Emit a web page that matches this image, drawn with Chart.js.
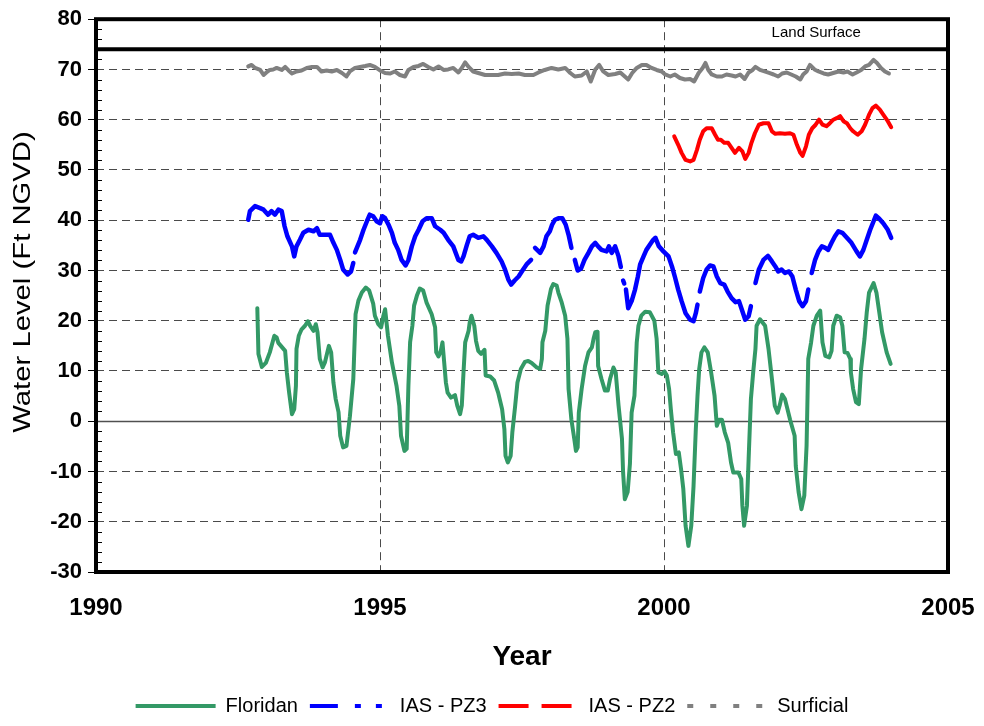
<!DOCTYPE html>
<html>
<head>
<meta charset="utf-8">
<title>Water Level</title>
<script src="https://cdn.jsdelivr.net/npm/chart.js@4.4.1/dist/chart.umd.min.js"></script>
<style>
  html, body { margin: 0; padding: 0; background: #fff; }
  canvas { display: block; }
</style>
</head>
<body>
<canvas id="chart" width="984" height="726"></canvas>
<script>
// values (decimal year, ft NGVD)
const floridanYears = [
  1992.84, 1992.86, 1992.92, 1992.99, 1993.06, 1993.14, 1993.18, 1993.21, 1993.33, 1993.36,
  1993.40, 1993.45, 1993.49, 1993.52, 1993.53, 1993.57, 1993.62, 1993.68, 1993.73, 1993.77,
  1993.83, 1993.87, 1993.90, 1993.94, 1993.99, 1994.03, 1994.10, 1994.14, 1994.18, 1994.22,
  1994.27, 1994.30, 1994.35, 1994.41, 1994.47, 1994.53, 1994.57, 1994.62, 1994.68, 1994.75,
  1994.81, 1994.88, 1994.91, 1994.97, 1995.02, 1995.06, 1995.09, 1995.14, 1995.21, 1995.29,
  1995.34, 1995.37, 1995.43, 1995.47, 1995.50, 1995.53, 1995.57, 1995.60, 1995.65, 1995.70,
  1995.76, 1995.82, 1995.91, 1995.97, 1995.99, 1996.03, 1996.07, 1996.10, 1996.13, 1996.16,
  1996.19, 1996.25, 1996.32, 1996.36, 1996.41, 1996.44, 1996.47, 1996.50, 1996.56, 1996.58,
  1996.61, 1996.66, 1996.69, 1996.73, 1996.78, 1996.84, 1996.86, 1996.94, 1997.01, 1997.08,
  1997.15, 1997.19, 1997.21, 1997.25, 1997.30, 1997.33, 1997.38, 1997.42, 1997.48, 1997.55,
  1997.61, 1997.67, 1997.76, 1997.82, 1997.85, 1997.86, 1997.91, 1997.95, 1998.01, 1998.05,
  1998.11, 1998.14, 1998.20, 1998.26, 1998.30, 1998.32, 1998.37, 1998.42, 1998.45, 1998.48,
  1998.50, 1998.55, 1998.61, 1998.67, 1998.73, 1998.76, 1998.79, 1998.83, 1998.84, 1998.90,
  1998.96, 1999.01, 1999.05, 1999.11, 1999.15, 1999.20, 1999.26, 1999.28, 1999.31, 1999.36,
  1999.40, 1999.43, 1999.48, 1999.52, 1999.55, 1999.60, 1999.67, 1999.75, 1999.83, 1999.87,
  1999.90, 1999.96, 2000.01, 2000.05, 2000.09, 2000.12, 2000.16, 2000.21, 2000.26, 2000.30,
  2000.34, 2000.38, 2000.43, 2000.48, 2000.52, 2000.56, 2000.59, 2000.62, 2000.66, 2000.71,
  2000.77, 2000.83, 2000.89, 2000.93, 2000.97, 2001.02, 2001.07, 2001.13, 2001.18, 2001.22,
  2001.31, 2001.36, 2001.38, 2001.41, 2001.46, 2001.49, 2001.53, 2001.57, 2001.61, 2001.63,
  2001.69, 2001.78, 2001.84, 2001.90, 2001.95, 2002.00, 2002.04, 2002.08, 2002.13, 2002.22,
  2002.30, 2002.32, 2002.37, 2002.42, 2002.47, 2002.51, 2002.54, 2002.59, 2002.63, 2002.69,
  2002.75, 2002.79, 2002.84, 2002.91, 2002.95, 2002.98, 2003.04, 2003.10, 2003.14, 2003.18,
  2003.23, 2003.28, 2003.29, 2003.33, 2003.38, 2003.43, 2003.47, 2003.53, 2003.57, 2003.61,
  2003.69, 2003.74, 2003.79, 2003.84, 2003.92, 2003.99
];
const floridanLevels = [
  22.5, 13.4, 10.8, 11.6, 13.7, 17.0, 16.7, 15.6, 14.0, 9.7,
  5.7, 1.4, 2.4, 7.1, 14.4, 17.0, 18.3, 19.0, 19.9, 19.0,
  18.0, 19.3, 17.7, 12.4, 10.7, 11.7, 15.0, 13.7, 7.7, 4.4,
  1.8, -2.9, -5.2, -4.9, 1.0, 8.4, 21.3, 24.0, 25.6, 26.6,
  26.0, 23.4, 21.0, 19.3, 18.7, 21.0, 22.3, 17.0, 11.7, 7.1,
  3.1, -2.9, -5.9, -5.5, 7.0, 15.7, 19.0, 23.0, 25.0, 26.4,
  26.0, 23.6, 21.3, 18.7, 13.7, 12.9, 14.0, 15.7, 11.7, 7.7,
  5.7, 4.7, 5.2, 3.1, 1.4, 3.1, 9.7, 15.7, 18.0, 19.7,
  21.0, 19.0, 16.0, 14.0, 13.4, 14.2, 9.1, 8.9, 8.1, 5.7,
  2.4, -1.6, -6.9, -8.2, -6.9, -2.2, 3.1, 7.7, 10.4, 11.8,
  12.0, 11.6, 10.7, 10.4, 12.4, 15.7, 18.0, 23.0, 26.3, 27.3,
  27.0, 25.6, 23.6, 21.0, 16.4, 6.4, 0.3, -3.5, -5.9, -5.2,
  1.7, 6.4, 11.0, 13.7, 14.7, 16.4, 17.7, 17.8, 11.0, 8.4,
  6.1, 6.1, 8.4, 10.7, 9.7, 3.1, -3.5, -10.2, -15.5, -14.1,
  -8.5, 1.7, 5.1, 15.7, 19.0, 21.0, 21.8, 21.7, 20.0, 16.4,
  9.7, 9.4, 9.9, 9.1, 6.4, 2.4, -2.2, -6.5, -6.2, -9.5,
  -13.5, -20.8, -24.8, -20.8, -12.9, -1.6, 5.1, 10.4, 13.7, 14.7,
  13.7, 9.7, 5.1, -0.9, 0.3, 0.3, -2.2, -4.3, -8.2, -10.2,
  -10.2, -11.5, -16.8, -20.8, -16.8, -7.5, 4.4, 9.7, 14.4, 19.0,
  20.3, 19.0, 14.4, 8.4, 3.1, 1.7, 3.3, 5.3, 4.4, 0.3,
  -2.9, -8.9, -14.1, -17.5, -14.8, -4.9, 12.4, 15.7, 19.0, 21.0,
  22.0, 15.7, 13.0, 12.7, 14.0, 19.0, 21.0, 20.7, 19.0, 13.7,
  13.6, 12.4, 9.7, 6.4, 3.8, 3.4, 10.4, 16.4, 21.7, 25.6,
  27.5, 25.6, 21.7, 17.7, 13.7, 11.4
];

// null = gap in the record
const pz3Years = [
  1992.68, 1992.71, 1992.80, 1992.89, 1992.95, 1993.03, 1993.09, 1993.15, 1993.21, 1993.27,
  1993.32, 1993.37, 1993.45, 1993.49, 1993.53, 1993.59, 1993.65, 1993.74, 1993.83, 1993.89,
  1993.94, 1994.03, 1994.12, 1994.18, 1994.24, 1994.30, 1994.35, 1994.43, 1994.49, 1994.53,
  1994.545, 1994.56, 1994.65, 1994.71, 1994.77, 1994.82, 1994.88, 1994.94, 1995.00, 1995.04,
  1995.09, 1995.15, 1995.21, 1995.26, 1995.32, 1995.38, 1995.45, 1995.50, 1995.56, 1995.62,
  1995.68, 1995.75, 1995.82, 1995.91, 1995.97, 1996.06, 1996.12, 1996.20, 1996.29, 1996.38,
  1996.43, 1996.47, 1996.53, 1996.58, 1996.64, 1996.73, 1996.82, 1996.88, 1996.97, 1997.05,
  1997.14, 1997.20, 1997.26, 1997.31, 1997.37, 1997.44, 1997.52, 1997.58, 1997.66, 1997.69,
  1997.73, 1997.82, 1997.88, 1997.93, 1997.99, 1998.03, 1998.08, 1998.14, 1998.21, 1998.27,
  1998.32, 1998.37, 1998.40, 1998.43, 1998.48, 1998.54, 1998.60, 1998.67, 1998.73, 1998.79,
  1998.84, 1998.90, 1998.99, 1999.03, 1999.08, 1999.14, 1999.20, 1999.24, 1999.26, 1999.28,
  1999.30, 1999.31, 1999.33, 1999.37, 1999.43, 1999.49, 1999.54, 1999.58, 1999.64, 1999.69,
  1999.75, 1999.81, 1999.85, 1999.91, 1999.99, 2000.08, 2000.14, 2000.19, 2000.25, 2000.31,
  2000.38, 2000.46, 2000.52, 2000.56, 2000.59, 2000.61, 2000.63, 2000.69, 2000.75, 2000.81,
  2000.87, 2000.93, 2000.99, 2001.06, 2001.12, 2001.19, 2001.26, 2001.32, 2001.38, 2001.43,
  2001.49, 2001.53, 2001.57, 2001.61, 2001.67, 2001.75, 2001.83, 2001.90, 2001.96, 2002.01,
  2002.07, 2002.13, 2002.20, 2002.26, 2002.32, 2002.38, 2002.44, 2002.50, 2002.54, 2002.57,
  2002.60, 2002.66, 2002.72, 2002.78, 2002.84, 2002.89, 2002.95, 2003.01, 2003.07, 2003.14,
  2003.22, 2003.30, 2003.39, 2003.45, 2003.51, 2003.57, 2003.63, 2003.69, 2003.73, 2003.79,
  2003.86, 2003.94, 2004.00
];
const pz3Levels = [
  40.1, 41.8, 42.8, 42.4, 42.1, 41.1, 41.8, 41.1, 42.1, 41.8,
  38.8, 36.8, 34.8, 32.8, 34.8, 36.1, 37.5, 38.1, 37.8, 38.4,
  37.1, 37.1, 37.1, 35.5, 34.1, 32.1, 30.2, 29.2, 29.8, 31.5,
  null, 33.6, 36.1, 38.1, 39.8, 41.1, 40.8, 39.8, 39.4, 40.8,
  40.4, 39.1, 37.5, 35.5, 34.1, 32.1, 31.0, 32.1, 34.8, 36.8,
  38.1, 39.8, 40.4, 40.4, 38.8, 38.1, 37.5, 36.1, 34.8, 32.1,
  31.8, 32.8, 35.1, 36.8, 37.1, 36.5, 36.8, 36.1, 34.8, 33.5,
  31.8, 30.2, 28.2, 27.2, 28.0, 28.8, 30.2, 31.2, 32.1, null,
  34.5, 33.5, 34.8, 36.8, 37.8, 39.1, 40.1, 40.4, 40.4, 39.1,
  37.1, 34.5, null, 32.1, 30.0, 30.4, 32.1, 33.5, 34.8, 35.5,
  34.8, 34.1, 33.8, 34.8, 33.5, 34.8, 32.8, 30.7, null, 28.0,
  27.4, null, 26.2, 22.5, 23.9, 26.2, 28.8, 31.2, 32.8, 34.1,
  35.1, 36.1, 36.5, 34.8, 33.8, 32.8, 30.8, 28.8, 26.2, 23.9,
  21.5, 20.2, 19.9, 21.5, 23.2, null, 25.8, 28.5, 30.2, 31.0,
  30.8, 28.8, 27.5, 27.2, 25.8, 24.5, 23.7, 23.9, 21.9, 20.2,
  20.9, 22.9, null, 27.5, 30.2, 32.1, 32.9, 31.8, 30.8, 29.8,
  30.2, 29.5, 29.8, 28.8, 26.2, 23.9, 22.9, 23.9, 26.2, null,
  29.5, 32.1, 33.8, 34.8, 34.5, 34.1, 35.5, 36.8, 37.8, 37.5,
  36.5, 35.5, 33.8, 32.8, 34.1, 36.1, 38.1, 39.8, 40.9, 40.3,
  39.4, 38.1, 36.5
];

const pz2Years = [
  2000.18, 2000.25, 2000.31, 2000.38, 2000.46, 2000.52, 2000.58, 2000.63, 2000.69, 2000.75,
  2000.84, 2000.90, 2000.95, 2001.00, 2001.06, 2001.13, 2001.19, 2001.25, 2001.32, 2001.38,
  2001.43, 2001.49, 2001.54, 2001.60, 2001.67, 2001.75, 2001.84, 2001.90, 2001.96, 2002.04,
  2002.13, 2002.22, 2002.28, 2002.34, 2002.40, 2002.44, 2002.50, 2002.55, 2002.61, 2002.67,
  2002.73, 2002.79, 2002.86, 2002.92, 2002.98, 2003.04, 2003.10, 2003.16, 2003.22, 2003.28,
  2003.33, 2003.41, 2003.48, 2003.54, 2003.61, 2003.67, 2003.73, 2003.80, 2003.86, 2003.94,
  2004.00
];
const pz2Levels = [
  56.7, 55.0, 53.4, 52.0, 51.7, 52.0, 54.0, 56.0, 57.7, 58.3,
  58.3, 57.0, 56.0, 56.0, 55.4, 55.4, 54.4, 53.4, 54.4, 53.7,
  52.2, 53.4, 55.4, 57.3, 59.0, 59.3, 59.3, 57.7, 57.2, 57.3,
  57.2, 57.3, 57.0, 55.0, 53.4, 52.8, 54.7, 57.0, 58.3, 59.0,
  60.0, 59.0, 58.7, 59.3, 60.0, 60.3, 60.7, 59.7, 59.3, 58.3,
  57.7, 57.0, 57.7, 59.0, 61.0, 62.3, 62.8, 62.0, 61.0, 59.7,
  58.5
];

const surficialYears = [
  1992.68, 1992.74, 1992.80, 1992.89, 1992.95, 1993.00, 1993.06, 1993.12, 1993.18, 1993.27,
  1993.33, 1993.39, 1993.45, 1993.53, 1993.62, 1993.71, 1993.80, 1993.89, 1993.97, 1994.06,
  1994.15, 1994.24, 1994.33, 1994.41, 1994.47, 1994.56, 1994.65, 1994.74, 1994.82, 1994.91,
  1995.00, 1995.09, 1995.18, 1995.26, 1995.35, 1995.44, 1995.50, 1995.59, 1995.68, 1995.76,
  1995.85, 1995.94, 1996.03, 1996.12, 1996.20, 1996.29, 1996.38, 1996.44, 1996.50, 1996.56,
  1996.64, 1996.73, 1996.85, 1996.97, 1997.08, 1997.20, 1997.32, 1997.44, 1997.55, 1997.70,
  1997.79, 1997.90, 1998.02, 1998.14, 1998.26, 1998.35, 1998.43, 1998.55, 1998.64, 1998.71,
  1998.79, 1998.86, 1998.93, 1999.02, 1999.14, 1999.23, 1999.31, 1999.37, 1999.44, 1999.52,
  1999.61, 1999.69, 1999.78, 1999.87, 1999.96, 2000.02, 2000.11, 2000.19, 2000.28, 2000.37,
  2000.46, 2000.53, 2000.61, 2000.68, 2000.73, 2000.78, 2000.84, 2000.93, 2001.02, 2001.10,
  2001.19, 2001.26, 2001.34, 2001.42, 2001.49, 2001.56, 2001.61, 2001.69, 2001.77, 2001.85,
  2001.93, 2002.01, 2002.08, 2002.16, 2002.24, 2002.32, 2002.40, 2002.45, 2002.51, 2002.57,
  2002.65, 2002.72, 2002.81, 2002.89, 2002.98, 2003.07, 2003.16, 2003.23, 2003.32, 2003.39,
  2003.47, 2003.54, 2003.61, 2003.69, 2003.75, 2003.82, 2003.89, 2003.96
];
const surficialLevels = [
  70.6, 70.9, 70.3, 69.9, 68.9, 69.4, 69.9, 70.0, 70.3, 69.9,
  70.5, 69.8, 69.2, 69.6, 69.8, 70.3, 70.5, 70.5, 69.6, 69.8,
  69.6, 69.9, 69.3, 68.6, 69.6, 70.3, 70.5, 70.7, 70.9, 70.5,
  69.8, 69.3, 69.2, 69.6, 68.9, 68.6, 69.9, 70.5, 70.7, 71.1,
  70.5, 70.0, 70.6, 69.9, 70.0, 70.3, 69.4, 70.3, 71.4, 70.5,
  69.6, 69.3, 68.9, 68.9, 68.9, 69.2, 69.1, 69.2, 68.9, 68.9,
  69.4, 69.9, 70.3, 70.0, 70.3, 69.3, 68.6, 68.8, 69.6, 67.6,
  70.0, 70.9, 69.6, 68.9, 69.1, 69.4, 68.6, 68.0, 69.3, 70.3,
  70.9, 70.9, 70.3, 69.9, 69.6, 69.0, 68.6, 69.0, 68.3, 68.0,
  68.1, 67.6, 69.3, 70.3, 71.3, 69.9, 69.0, 68.6, 68.6, 69.0,
  68.8, 68.6, 69.0, 68.1, 69.4, 69.9, 70.5, 69.9, 69.6, 69.3,
  69.0, 68.6, 69.2, 69.4, 69.0, 68.6, 68.0, 69.0, 69.6, 70.9,
  70.0, 69.6, 69.2, 69.0, 69.3, 69.6, 69.4, 69.6, 69.0, 69.4,
  69.9, 70.6, 70.9, 71.9, 71.3, 70.3, 69.6, 69.2
];

const landSurfaceYears = [1990, 2005];
const landSurfaceLevels = [74, 74];

const xTicks = [1990, 1995, 2000, 2005];
const yRange = [-30, 80];

const toPoints = (xs, ys) => xs.map((x, i) => ({ x: x, y: ys[i] }));

const FONT = "'Liberation Sans', Arial, Helvetica, sans-serif";
const GRID = '#4a4a4a';
const legendDash = [[], [28, 17, 6, 15, 6, 17], [30, 13], [6, 17]];

const framePlugin = {
  id: 'frame',
  beforeDatasetsDraw(chart) {
    const { ctx, chartArea: a, scales: { y } } = chart;
    ctx.save();
    // solid zero line
    const y0 = Math.round(y.getPixelForValue(0)) + 0.5;
    ctx.strokeStyle = '#505050';
    ctx.lineWidth = 1.5;
    ctx.beginPath();
    ctx.moveTo(a.left, y0);
    ctx.lineTo(a.right, y0);
    ctx.stroke();
    // minor ticks, inside the frame
    ctx.strokeStyle = '#000';
    ctx.lineWidth = 1;
    for (let v = yRange[0]; v <= yRange[1]; v += 2) {
      if (v % 10 === 0) continue;
      const p = Math.round(y.getPixelForValue(v)) + 0.5;
      ctx.beginPath();
      ctx.moveTo(a.left, p);
      ctx.lineTo(a.left + 6, p);
      ctx.stroke();
    }
    ctx.restore();
  },
  afterDatasetsDraw(chart) {
    const { ctx, chartArea: a, scales: { x, y } } = chart;
    ctx.save();
    ctx.strokeStyle = '#000';
    ctx.lineWidth = 4;
    ctx.strokeRect(a.left, a.top, a.right - a.left, a.bottom - a.top);
    ctx.fillStyle = '#000';
    ctx.font = '15px ' + FONT;
    ctx.textAlign = 'center';
    ctx.textBaseline = 'middle';
    ctx.fillText('Land Surface', x.getPixelForValue(2002.68), y.getPixelForValue(77.2));
    // y axis title, stretched along its length like the original
    ctx.translate(23, 282);
    ctx.rotate(-Math.PI / 2);
    ctx.scale(1.22, 1);
    ctx.font = '24px ' + FONT;
    ctx.fillText('Water Level (Ft NGVD)', 0, 0);
    ctx.restore();
  }
};

const line = (label, xs, ys, color, width) => ({
  label: label,
  data: toPoints(xs, ys),
  borderColor: color,
  backgroundColor: color,
  borderWidth: width,
  borderJoinStyle: 'round',
  borderCapStyle: 'round',
  pointRadius: 0,
  pointStyle: 'line',
  fill: false,
  tension: 0,
  spanGaps: false,
  yAxisID: 'y'
});

new Chart(document.getElementById('chart'), {
  type: 'line',
  data: {
    datasets: [
      line('Floridan', floridanYears, floridanLevels, '#339966', 4),
      line('IAS - PZ3', pz3Years, pz3Levels, '#0000ff', 4.5),
      line('IAS - PZ2', pz2Years, pz2Levels, '#ff0000', 4),
      line('Surficial', surficialYears, surficialLevels, '#808080', 4),
      line('Land Surface', landSurfaceYears, landSurfaceLevels, '#000000', 4)
    ]
  },
  options: {
    responsive: false,
    animation: false,
    layout: { padding: { left: 0, right: 0, top: 17, bottom: 0 } },
    plugins: {
      tooltip: { enabled: false },
      legend: {
        position: 'bottom',
        labels: {
          usePointStyle: true,
          pointStyleWidth: 80,
          padding: 12,
          color: '#000',
          font: { family: FONT, size: 20 },
          filter: item => item.datasetIndex < 4,
          generateLabels(chart) {
            const items = Chart.defaults.plugins.legend.labels.generateLabels(chart);
            items.forEach(it => {
              it.pointStyle = 'line';
              it.lineWidth = 4;
              it.lineDash = legendDash[it.datasetIndex] || [];
            });
            return items;
          }
        }
      }
    },
    scales: {
      x: {
        type: 'linear',
        min: xTicks[0],
        max: xTicks[xTicks.length - 1],
        afterFit: s => { s.height = 112; s.paddingLeft = 0; s.paddingRight = 0; },
        afterBuildTicks: s => { s.ticks = xTicks.map(v => ({ value: v })); },
        ticks: {
          color: '#000',
          padding: 22,
          font: { family: FONT, size: 24, weight: 'bold' },
          callback: v => String(v)
        },
        grid: { color: GRID, lineWidth: 1, drawTicks: false },
        border: { display: false, dash: [8, 5] },
        title: {
          display: true,
          text: 'Year',
          color: '#000',
          font: { family: FONT, size: 28, weight: 'bold' },
          padding: { top: 0, bottom: 10 }
        }
      },
      y: {
        type: 'linear',
        position: 'left',
        min: yRange[0],
        max: yRange[1],
        afterFit: s => { s.width = 96; },
        ticks: {
          stepSize: 10,
          color: '#000',
          padding: 6,
          font: { family: FONT, size: 22, weight: 'bold' }
        },
        grid: { color: GRID, lineWidth: 1, tickLength: 8, tickColor: '#000', tickBorderDash: [] },
        border: { display: false, dash: [8, 5] }
      },
      // empty right-hand strip so the legend stays centred on the page
      yRight: {
        type: 'linear',
        position: 'right',
        min: yRange[0],
        max: yRange[1],
        afterFit: s => { s.width = 36; },
        ticks: { display: false },
        grid: { display: false, drawTicks: false },
        border: { display: false }
      }
    }
  },
  plugins: [framePlugin]
});
</script>
</body>
</html>
